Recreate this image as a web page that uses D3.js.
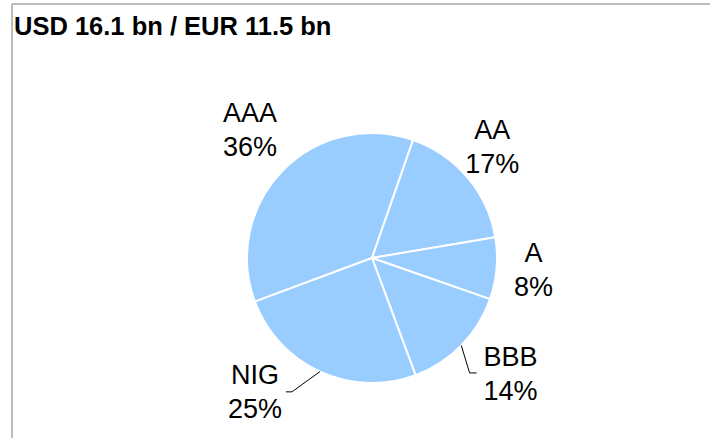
<!DOCTYPE html>
<html>
<head>
<meta charset="utf-8">
<script src="https://cdn.jsdelivr.net/npm/d3@7"></script>
<style>
  body { margin: 0; background: #fff; }
  svg { display: block; font-family: Arial, "Liberation Sans", sans-serif; }
</style>
</head>
<body>
<div id="chart"></div>
<script>
// data
const title = 'USD 16.1 bn / EUR 11.5 bn';
const ratings = ['AAA', 'AA', 'A', 'BBB', 'NIG'];
const shares = [36, 17, 8, 14, 25];

const width = 710, height = 438;
const cx = 372, cy = 258, radius = 125;
// first slice (AAA) starts at about 8 o'clock
const start = -110.4 * Math.PI / 180;

// label placement: radius from centre + small nudges
const labelPos = {
  AAA: { r: 175, dx: 3, dy: -7 },
  AA:  { r: 160, dx: -2, dy: -9 },
  A:   { r: 162, dx: 0, dy: -3 },
  BBB: { r: 180, dx: 10, dy: -11 },
  NIG: { r: 178, dx: -43, dy: -29 }
};
const leaders = { BBB: { ex: -41, ey: 0, len: 7 }, NIG: { ex: 37, ey: 1, len: -6 } };

const svg = d3.select('#chart').append('svg')
  .attr('width', width)
  .attr('height', height);

// frame (top and left edges only are visible)
svg.append('line').attr('x1', 12).attr('y1', 4).attr('x2', width).attr('y2', 4)
  .attr('stroke', '#a6a6a6').attr('stroke-width', 1.5);
svg.append('line').attr('x1', 12).attr('y1', 4).attr('x2', 12).attr('y2', height)
  .attr('stroke', '#a6a6a6').attr('stroke-width', 1.5);

svg.append('text')
  .attr('x', 14).attr('y', 35)
  .attr('font-size', 25.5).attr('font-weight', 'bold')
  .attr('fill', '#000')
  .text(title);

const data = ratings.map((k, i) => ({ name: k, value: shares[i] }));

const pie = d3.pie()
  .sort(null)
  .value(d => d.value)
  .startAngle(start)
  .endAngle(start + 2 * Math.PI);

const arc = d3.arc().innerRadius(0).outerRadius(radius);
const arcs = pie(data);

const g = svg.append('g').attr('transform', `translate(${cx},${cy})`);

g.selectAll('path')
  .data(arcs)
  .enter()
  .append('path')
  .attr('d', arc)
  .attr('fill', '#99ccff')
  .attr('stroke', '#fff')
  .attr('stroke-width', 2)
  .attr('stroke-linejoin', 'round');

function mid(d) { return (d.startAngle + d.endAngle) / 2; }
function labelXY(d) {
  const p = labelPos[d.data.name];
  const a = mid(d);
  return [Math.sin(a) * p.r + p.dx, -Math.cos(a) * p.r + p.dy];
}

// labels
const lab = g.selectAll('text.lab')
  .data(arcs)
  .enter()
  .append('text')
  .attr('class', 'lab')
  .attr('text-anchor', 'middle')
  .attr('font-size', 27)
  .attr('fill', '#000')
  .attr('transform', d => `translate(${labelXY(d)})`);
lab.append('tspan').attr('x', 0).attr('y', -7).text(d => d.data.name);
lab.append('tspan').attr('x', 0).attr('y', 27.5).text(d => d.value + '%');

// leader lines
g.selectAll('polyline.leader')
  .data(arcs.filter(d => leaders[d.data.name]))
  .enter()
  .append('polyline')
  .attr('class', 'leader')
  .attr('fill', 'none')
  .attr('stroke', '#000')
  .attr('stroke-width', 1)
  .attr('points', d => {
    const a = mid(d);
    const l = leaders[d.data.name];
    const [lx, ly] = labelXY(d);
    const p0 = [Math.sin(a) * radius, -Math.cos(a) * radius];
    const p1 = [lx + l.ex, ly + l.ey];
    const p2 = [p1[0] + l.len, p1[1]];
    return [p0, p1, p2].map(p => p.join(',')).join(' ');
  });
</script>
</body>
</html>
